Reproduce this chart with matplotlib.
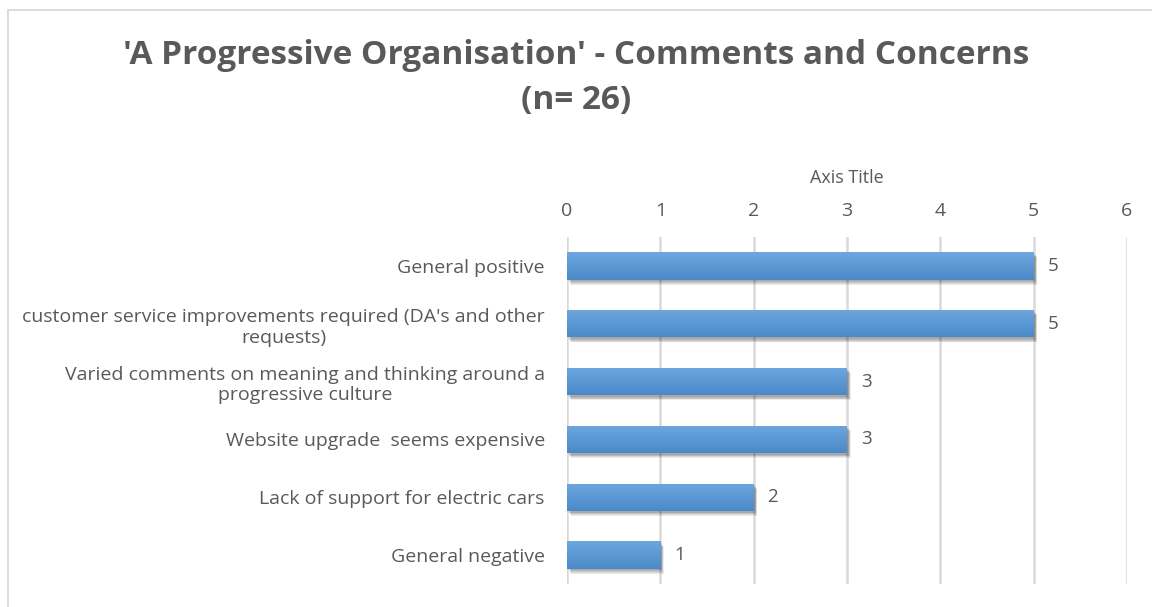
"""Horizontal bar chart of comment categories (Excel-style look)."""

import matplotlib

matplotlib.use("Agg")
import matplotlib.pyplot as plt
import matplotlib.patheffects as pe
from matplotlib.patches import Rectangle
import numpy as np

categories = [
    "General positive",
    "customer service improvements required (DA's and other\nrequests)",
    "Varied comments on meaning and thinking around a\nprogressive culture",
    "Website upgrade  seems expensive",
    "Lack of support for electric cars",
    "General negative",
]
counts = [5, 5, 3, 3, 2, 1]
x_ticks = [0, 1, 2, 3, 4, 5, 6]

TEXT = "#595959"
GRID = "#D9D9D9"
FONT = ["Open Sans", "DejaVu Sans"]

plt.rcParams["font.family"] = FONT

fig = plt.figure(figsize=(11.52, 6.07), dpi=100)
W, H = 1152, 607

# chart-area border (runs off the right/bottom edges)
fig.patches.append(Rectangle((8 / W, -0.05), 1.2, 1 - 10 / H + 0.05,
                             transform=fig.transFigure, fill=False,
                             edgecolor=GRID, lw=1.3))

ax = fig.add_axes([567 / W, 23 / H, 560 / W, 347 / H])
y = np.arange(len(categories))
bars = ax.barh(y, counts, height=0.47, color="#5B9BD5", zorder=3)

# vertical gradient + soft drop shadow on each bar
grad = np.linspace(0, 1, 64).reshape(-1, 1)
cmap = matplotlib.colors.LinearSegmentedColormap.from_list("bar", ["#6DA7DE", "#4A89C9"])
shadow = [pe.SimplePatchShadow(offset=(1 + 0.4 * k, -1.2 - 0.6 * k), shadow_rgbFace="#000000", alpha=0.08)
          for k in range(5)]
for b in bars:
    b.set_path_effects(shadow + [pe.Normal()])
    x0, y0, w, h = b.get_x(), b.get_y(), b.get_width(), b.get_height()
    im = ax.imshow(grad, cmap=cmap, extent=(x0, x0 + w, y0 + h, y0), aspect="auto", zorder=4)
    im.set_clip_path(b)

for yi, v in zip(y, counts):
    ax.annotate(str(v), (v, yi), xytext=(10, 0), textcoords="offset points",
                va="center", ha="left", color=TEXT, fontsize=13.5)

ax.set_xlim(0, 6)
ax.set_ylim(len(categories) - 0.5, -0.5)
ax.set_xticks(x_ticks)
ax.xaxis.tick_top()
ax.xaxis.set_label_position("top")
ax.set_xlabel("Axis Title", color=TEXT, fontsize=13, labelpad=14)
ax.set_yticks(y)
ax.set_yticklabels(categories, multialignment="center")
ax.tick_params(axis="both", length=0, colors=TEXT, labelsize=14)
ax.tick_params(axis="x", pad=12)
ax.tick_params(axis="y", pad=16)
ax.grid(axis="x", color=GRID, lw=1.8, zorder=0)
for s in ax.spines.values():
    s.set_visible(False)

fig.text(0.5, 1 - 78 / H, "'A Progressive Organisation' - Comments and Concerns\n(n= 26)",
         ha="center", va="center", fontsize=24, fontweight="bold", color=TEXT,
         linespacing=1.45)

fig.savefig("out.png", dpi=100)
